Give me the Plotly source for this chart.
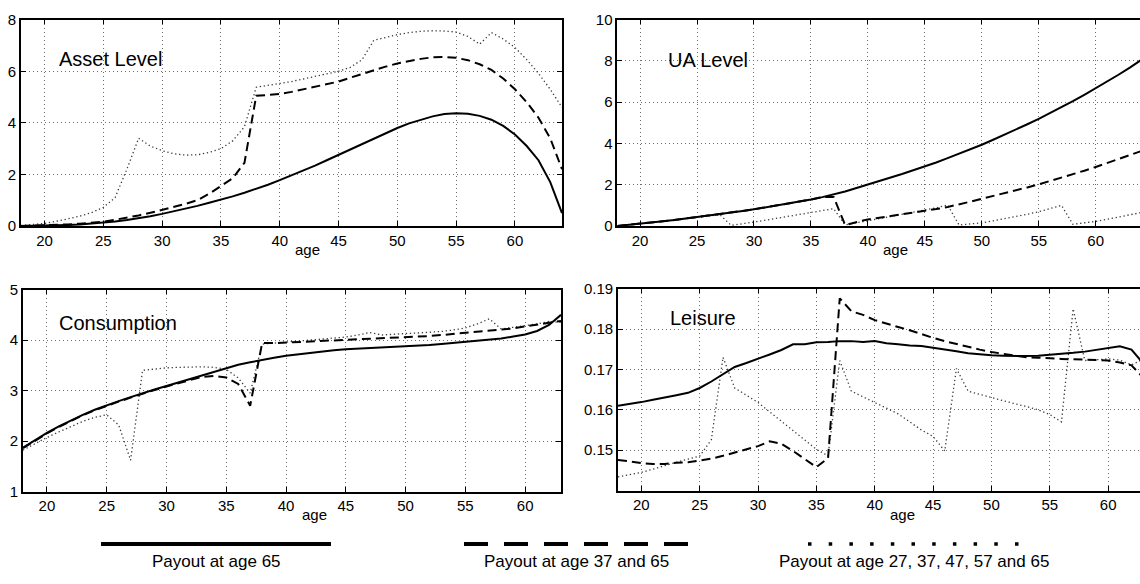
import plotly.graph_objects as go

# ---- data -----------------------------------------------------------------
age_top = list(range(18, 65))   # 18..64
age_bot = list(range(18, 64))   # 18..63

asset_65 = [0.0, 0.005, 0.01, 0.02, 0.04, 0.06, 0.09, 0.12, 0.17, 0.23, 0.30, 0.38,
            0.47, 0.57, 0.67, 0.78, 0.90, 1.02, 1.15, 1.29, 1.43, 1.60, 1.78, 1.96,
            2.14, 2.34, 2.55, 2.76, 2.97, 3.18, 3.39, 3.60, 3.80, 3.98, 4.13, 4.25,
            4.34, 4.37, 4.35, 4.27, 4.12, 3.88, 3.55, 3.10, 2.55, 1.70, 0.50]
asset_37 = [0.0, 0.01, 0.02, 0.04, 0.06, 0.09, 0.12, 0.17, 0.24, 0.32, 0.41, 0.51,
            0.62, 0.74, 0.86, 1.00, 1.25, 1.55, 1.85, 2.45, 5.05, 5.08, 5.12, 5.20,
            5.30, 5.40, 5.50, 5.60, 5.75, 5.90, 6.05, 6.18, 6.30, 6.40, 6.48, 6.54,
            6.55, 6.52, 6.43, 6.27, 6.05, 5.72, 5.30, 4.80, 4.20, 3.40, 2.20]
asset_27 = [0.02, 0.05, 0.10, 0.18, 0.27, 0.38, 0.52, 0.72, 1.10, 2.20, 3.40, 3.10,
            2.92, 2.80, 2.75, 2.76, 2.85, 3.00, 3.30, 3.85, 5.38, 5.45, 5.52, 5.60,
            5.70, 5.80, 5.90, 6.00, 6.15, 6.45, 7.20, 7.32, 7.42, 7.50, 7.55, 7.57,
            7.56, 7.52, 7.35, 7.05, 7.50, 7.25, 6.92, 6.45, 5.92, 5.30, 4.60]

ua_65 = [0.0, 0.05, 0.11, 0.17, 0.23, 0.29, 0.36, 0.42, 0.50, 0.57, 0.65, 0.73,
         0.81, 0.90, 0.99, 1.08, 1.18, 1.28, 1.40, 1.53, 1.67, 1.84, 2.02, 2.18,
         2.35, 2.52, 2.70, 2.88, 3.08, 3.29, 3.50, 3.72, 3.94, 4.18, 4.42, 4.67,
         4.93, 5.19, 5.47, 5.75, 6.05, 6.36, 6.67, 7.00, 7.33, 7.68, 8.05]
ua_37 = [0.0, 0.05, 0.11, 0.17, 0.23, 0.29, 0.36, 0.42, 0.50, 0.57, 0.65, 0.73,
         0.81, 0.90, 0.99, 1.08, 1.18, 1.28, 1.40, 1.40, 0.05, 0.18, 0.32, 0.40,
         0.48, 0.56, 0.64, 0.73, 0.82, 0.92, 1.04, 1.18, 1.32, 1.45, 1.58, 1.72,
         1.87, 2.02, 2.18, 2.34, 2.50, 2.68, 2.86, 3.05, 3.24, 3.43, 3.63]
ua_27 = [0.0, 0.05, 0.11, 0.17, 0.23, 0.29, 0.36, 0.42, 0.50, 0.55, 0.03, 0.10,
         0.19, 0.28, 0.37, 0.46, 0.56, 0.66, 0.76, 0.84, 0.05, 0.15, 0.26, 0.36,
         0.46, 0.56, 0.66, 0.76, 0.88, 1.02, 0.05, 0.10, 0.15, 0.25, 0.35, 0.46,
         0.57, 0.69, 0.84, 1.00, 0.08, 0.15, 0.22, 0.33, 0.44, 0.55, 0.65]

cons_65 = [1.87, 2.02, 2.16, 2.29, 2.41, 2.52, 2.62, 2.71, 2.79, 2.87, 2.95, 3.02,
           3.09, 3.16, 3.23, 3.30, 3.38, 3.45, 3.51, 3.56, 3.61, 3.65, 3.69, 3.72,
           3.75, 3.78, 3.80, 3.82, 3.83, 3.84, 3.85, 3.86, 3.87, 3.88, 3.90, 3.92,
           3.94, 3.96, 3.98, 4.00, 4.03, 4.07, 4.11, 4.18, 4.30, 4.50]
cons_37 = [1.86, 2.01, 2.15, 2.28, 2.40, 2.51, 2.61, 2.70, 2.78, 2.86, 2.94, 3.01,
           3.08, 3.15, 3.21, 3.27, 3.29, 3.26, 3.13, 2.70, 3.94, 3.94, 3.95, 3.96,
           3.97, 3.98, 3.99, 4.00, 4.01, 4.02, 4.03, 4.04, 4.05, 4.06, 4.08, 4.10,
           4.12, 4.14, 4.16, 4.18, 4.20, 4.23, 4.27, 4.31, 4.35, 4.38]
cons_27 = [1.82, 1.95, 2.07, 2.18, 2.29, 2.39, 2.47, 2.52, 2.32, 1.62, 3.40, 3.43,
           3.45, 3.46, 3.47, 3.47, 3.46, 3.42, 3.25, 2.95, 3.92, 3.94, 3.96, 3.98,
           4.00, 4.02, 4.04, 4.06, 4.10, 4.15, 4.10, 4.12, 4.13, 4.14, 4.15, 4.17,
           4.20, 4.24, 4.32, 4.42, 4.22, 4.25, 4.28, 4.32, 4.37, 4.35]

leis_65 = [0.1610, 0.1614, 0.1619, 0.1625, 0.1630, 0.1636, 0.1642, 0.1654, 0.1670,
           0.1687, 0.1706, 0.1716, 0.1726, 0.1737, 0.1748, 0.1762, 0.1762, 0.1767,
           0.1768, 0.1770, 0.1770, 0.1768, 0.1770, 0.1765, 0.1762, 0.1759, 0.1758,
           0.1754, 0.1749, 0.1745, 0.1740, 0.1737, 0.1735, 0.1734, 0.1733, 0.1733,
           0.1734, 0.1736, 0.1738, 0.1741, 0.1744, 0.1748, 0.1753, 0.1757, 0.1749,
           0.1715]
leis_37 = [0.1476, 0.1472, 0.1468, 0.1466, 0.1466, 0.1469, 0.1470, 0.1474, 0.1479,
           0.1486, 0.1494, 0.1502, 0.1510, 0.1522, 0.1516, 0.1498, 0.1478, 0.1458,
           0.1480, 0.1876, 0.1844, 0.1835, 0.1822, 0.1813, 0.1805, 0.1797, 0.1787,
           0.1778, 0.1770, 0.1763, 0.1755, 0.1749, 0.1743, 0.1739, 0.1735, 0.1730,
           0.1729, 0.1727, 0.1726, 0.1725, 0.1724, 0.1723, 0.1722, 0.1717, 0.1710,
           0.1680]
leis_27 = [0.1434, 0.1440, 0.1445, 0.1453, 0.1462, 0.1470, 0.1478, 0.1485, 0.1526,
           0.1730, 0.1654, 0.1636, 0.1618, 0.1595, 0.1572, 0.1550, 0.1526, 0.1502,
           0.1486, 0.1722, 0.1646, 0.1632, 0.1618, 0.1604, 0.1590, 0.1570, 0.1550,
           0.1534, 0.1498, 0.1702, 0.1646, 0.1638, 0.1630, 0.1622, 0.1615, 0.1608,
           0.1600, 0.1588, 0.1570, 0.1850, 0.1722, 0.1724, 0.1726, 0.1723, 0.1711,
           0.1725]

x_ticks = [20, 25, 30, 35, 40, 45, 50, 55, 60]
legend_labels = ["Payout at age 65", "Payout at age 37 and 65",
                 "Payout at age 27, 37, 47, 57 and 65"]

# ---- styles ---------------------------------------------------------------
FONT = "Liberation Sans, Arial, Helvetica, sans-serif"
W, H = 1140, 584
STYLES = [
    dict(color="black", width=2.0, dash="solid"),
    dict(color="black", width=2.0, dash="9px,5px"),
    dict(color="#3a3a3a", width=1.3, dash="1.3px,2.7px"),
]


def px_x(p):
    return p / W


def px_y(p):
    return 1 - p / H


fig = go.Figure()

panels = [
    # (x axis id, y axis id, ages, series, title, x domain px, y domain px,
    #  x range, y range, y ticks, draw right border)
    ("x", "y", age_top, [asset_65, asset_37, asset_27], "Asset Level",
     (21, 562), (11, 223.5), [18, 64], [0, 8], [0, 2, 4, 6, 8], True),
    ("x2", "y2", age_top, [ua_65, ua_37, ua_27], "UA Level",
     (617.3, 1140), (11, 223.5), [18, 18 + (1140 - 617.3) / 11.39], [0, 10],
     [0, 2, 4, 6, 8, 10], False),
    ("x3", "y3", age_bot, [cons_65, cons_37, cons_27], "Consumption",
     (23, 561), (289, 497), [18, 63], [1, 5], [1, 2, 3, 4, 5], True),
    ("x4", "y4", age_bot, [leis_65, leis_37, leis_27], "Leisure",
     (618, 1140), (288, 496), [18, 18 + (1140 - 618) / 11.67], [0.14, 0.19],
     [0.15, 0.16, 0.17, 0.18, 0.19], False),
]

title_pos = {"Asset Level": (57, 52), "UA Level": (666, 53),
             "Consumption": (57, 323), "Leisure": (668, 318)}

for xa, ya, ages, series, title, xd, yd, xr, yr, yt, right_border in panels:
    # dotted first so the solid/dashed lines sit on top
    for s_idx in (2, 1, 0):
        st = STYLES[s_idx]
        fig.add_trace(go.Scatter(
            x=ages, y=series[s_idx], xaxis=xa, yaxis=ya, mode="lines",
            line=dict(color=st["color"], width=st["width"], dash=st["dash"]),
            showlegend=False, hoverinfo="skip"))

    xkey = "xaxis" + xa[1:]
    ykey = "yaxis" + ya[1:]
    axis_common = dict(
        showline=True, linecolor="black", linewidth=1.6,
        ticks="inside", ticklen=5, tickcolor="black", tickwidth=1,
        showgrid=True, gridcolor="#6e6e6e", gridwidth=1, griddash="1px,3px",
        zeroline=False, tickfont=dict(family=FONT, size=15, color="black"),
    )
    fig.update_layout({
        xkey: dict(axis_common, domain=[px_x(xd[0]), px_x(xd[1])], range=xr,
                   tickvals=x_ticks, anchor=ya, mirror="ticks"),
        ykey: dict(axis_common, domain=[px_y(yd[1]), px_y(yd[0])], range=yr,
                   tickvals=yt, anchor=xa,
                   mirror="ticks" if right_border else False),
    })

    tx, ty = title_pos[title]
    fig.add_annotation(text=title, x=px_x(tx), y=px_y(ty), xref="paper", yref="paper",
                       xanchor="left", yanchor="middle", showarrow=False,
                       font=dict(family=FONT, size=20, color="black"))
    age_y = 248 if yd[0] < 100 else 521
    fig.add_annotation(text="age", x=42.4, y=px_y(age_y), xref=xa, yref="paper",
                       xanchor="center", yanchor="middle", showarrow=False,
                       font=dict(family=FONT, size=15, color="black"))

# ---- line-style key under the panels ---------------------------------------
key_items = [
    ((101, 331), dict(color="black", width=4, dash="solid")),
    ((464, 688), dict(color="black", width=4, dash="24px,16px")),
    ((808, 1019), dict(color="black", width=3.5, dash="3.5px,17.2px")),
]
for (x0, x1), ln in key_items:
    fig.add_shape(type="line", xref="paper", yref="paper",
                  x0=px_x(x0), x1=px_x(x1), y0=px_y(551), y1=px_y(551), line=ln)
for (x0, x1), label in zip([(101, 331), (464, 688), (808, 1019)], legend_labels):
    fig.add_annotation(text=label, x=px_x((x0 + x1) / 2), y=px_y(569),
                       xref="paper", yref="paper", xanchor="center", yanchor="middle",
                       showarrow=False, font=dict(family=FONT, size=17, color="black"))

fig.update_layout(
    width=W, height=H, margin=dict(l=0, r=0, t=0, b=0),
    paper_bgcolor="white", plot_bgcolor="white", showlegend=False,
    font=dict(family=FONT, color="black"),
)

fig.write_html("out.html", config={"displayModeBar": False})
